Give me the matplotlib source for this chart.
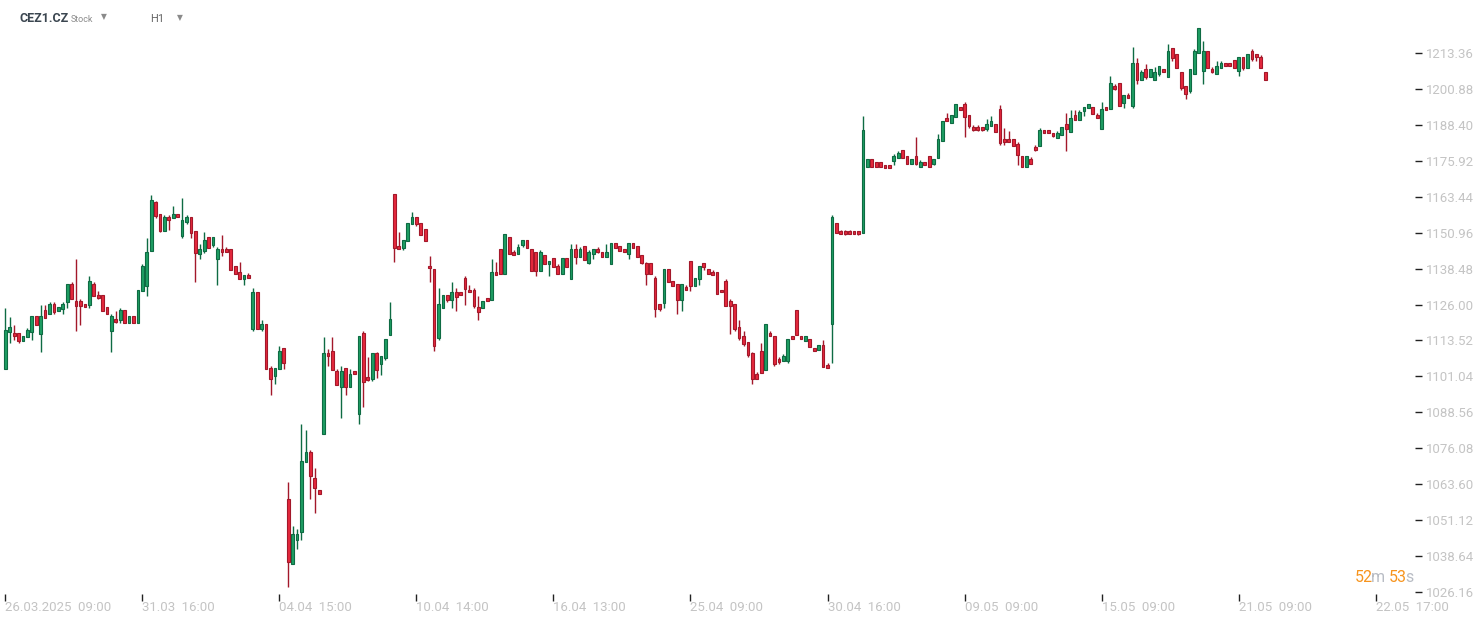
import matplotlib
matplotlib.use("Agg")
import matplotlib.pyplot as plt
from matplotlib import font_manager
import numpy as np

plt.rcParams['font.family'] = ['Roboto', 'DejaVu Sans']

# hourly OHLC candles, CEZ1.CZ
opens = [
    1103.5, 1116.6, 1116.1, 1116.0, 1113.5, 1114.6, 1116.6, 1122.0, 1115.7, 1124.0,
    1122.6, 1126.1, 1123.7, 1124.6, 1126.8, 1133.0, 1127.1, 1127.1, 1126.1, 1125.7,
    1133.1, 1129.2, 1129.2, 1125.0, 1116.7, 1120.9, 1120.5, 1124.0, 1119.5, 1122.0,
    1119.5, 1130.6, 1132.6, 1144.7, 1161.6, 1157.4, 1151.6, 1156.4, 1156.0, 1157.4,
    1149.9, 1154.8, 1156.4, 1151.5, 1143.7, 1144.7, 1149.5, 1146.8, 1141.7, 1145.3,
    1145.3, 1145.3, 1139.3, 1137.3, 1134.8, 1136.3, 1117.6, 1130.4, 1117.6, 1119.2,
    1104.0, 1101.3, 1103.5, 1110.9, 1058.5, 1035.8, 1044.1, 1046.9, 1071.2, 1074.8,
    1065.8, 1061.6, 1081.1, 1109.2, 1109.9, 1102.9, 1097.5, 1104.0, 1097.5, 1102.9,
    1088.1, 1116.1, 1100.8, 1100.3, 1109.2, 1105.5, 1107.5, 1115.5, 1164.4, 1146.3,
    1145.7, 1148.0, 1153.9, 1156.3, 1154.2, 1152.1, 1139.4, 1138.3, 1114.4, 1124.7,
    1129.2, 1127.7, 1130.3, 1130.3, 1135.1, 1131.1, 1131.1, 1125.0, 1124.7, 1128.2,
    1127.7, 1137.2, 1145.3, 1136.7, 1149.4, 1144.3, 1143.7, 1146.8, 1148.3, 1145.2,
    1144.3, 1137.8, 1143.2, 1140.0, 1142.1, 1139.4, 1136.7, 1142.1, 1134.8, 1145.2,
    1142.6, 1146.2, 1140.5, 1143.7, 1145.2, 1144.1, 1142.6, 1140.0, 1147.3, 1146.2,
    1145.2, 1143.7, 1147.3, 1146.2, 1143.1, 1140.4, 1140.4, 1135.1, 1126.1, 1126.6,
    1138.2, 1134.1, 1133.0, 1127.7, 1132.0, 1141.0, 1132.6, 1134.8, 1140.4, 1138.2,
    1137.4, 1137.3, 1131.1, 1134.2, 1127.1, 1126.1, 1118.2, 1115.1, 1113.0, 1109.1,
    1101.9, 1109.8, 1103.4, 1116.0, 1115.1, 1107.1, 1106.5, 1106.5, 1115.1, 1124.0,
    1115.1, 1113.5, 1113.9, 1110.9, 1110.3, 1111.8, 1105.0, 1119.4, 1154.2, 1151.4,
    1151.4, 1151.4, 1151.4, 1151.4, 1151.0, 1173.9, 1176.4, 1175.4, 1175.4, 1174.4,
    1174.4, 1176.0, 1177.0, 1179.6, 1177.5, 1174.9, 1177.5, 1173.9, 1175.4, 1177.5,
    1174.9, 1177.0, 1182.9, 1190.7, 1189.2, 1191.2, 1194.5, 1195.5, 1191.7, 1187.7,
    1187.7, 1187.7, 1187.1, 1188.1, 1188.7, 1193.9, 1183.5, 1183.5, 1183.5, 1181.8,
    1177.6, 1173.9, 1176.5, 1180.7, 1181.2, 1186.6, 1186.6, 1185.6, 1184.0, 1185.0,
    1188.7, 1186.0, 1191.8, 1190.2, 1193.3, 1194.1, 1194.5, 1191.8, 1187.1, 1194.5,
    1193.9, 1202.0, 1202.9, 1196.1, 1198.8, 1195.0, 1209.9, 1204.1, 1207.8, 1205.1,
    1204.1, 1206.2, 1207.8, 1205.1, 1215.1, 1213.0, 1206.8, 1201.9, 1200.3, 1206.2,
    1213.5, 1207.2, 1214.1, 1207.8, 1206.2, 1208.3, 1209.9, 1209.9, 1210.9, 1207.2,
    1212.0, 1208.3, 1214.1, 1213.0, 1212.0, 1206.8,
]
highs = [
    1124.9, 1121.7, 1118.9, 1116.0, 1115.0, 1117.8, 1122.0, 1122.0, 1125.8, 1125.8,
    1126.9, 1126.9, 1125.1, 1126.9, 1133.0, 1133.8, 1141.8, 1127.9, 1126.1, 1135.9,
    1133.8, 1130.6, 1129.2, 1125.0, 1122.6, 1123.8, 1124.8, 1124.0, 1122.0, 1122.0,
    1131.0, 1140.1, 1149.1, 1164.0, 1162.0, 1157.4, 1157.1, 1157.1, 1160.2, 1157.4,
    1163.0, 1157.1, 1156.4, 1151.5, 1147.0, 1151.2, 1149.5, 1149.5, 1146.1, 1150.2,
    1146.0, 1145.3, 1139.3, 1140.8, 1136.2, 1137.0, 1131.7, 1130.4, 1120.6, 1119.2,
    1104.7, 1104.0, 1111.6, 1110.9, 1064.4, 1049.1, 1048.0, 1084.5, 1082.4, 1075.5,
    1069.2, 1061.6, 1114.7, 1110.6, 1114.7, 1103.6, 1104.7, 1104.0, 1103.6, 1102.9,
    1115.1, 1116.8, 1107.8, 1109.2, 1109.5, 1108.1, 1114.0, 1126.9, 1164.4, 1151.2,
    1148.3, 1154.2, 1158.1, 1156.3, 1154.2, 1152.1, 1142.9, 1138.3, 1131.7, 1129.2,
    1129.2, 1133.8, 1131.7, 1130.3, 1135.9, 1132.8, 1131.7, 1129.0, 1127.1, 1128.2,
    1141.8, 1140.8, 1145.3, 1150.4, 1149.4, 1144.9, 1146.9, 1148.3, 1148.3, 1145.2,
    1144.3, 1144.9, 1143.2, 1141.0, 1142.1, 1140.1, 1142.1, 1142.1, 1147.0, 1147.0,
    1146.0, 1146.2, 1144.9, 1145.2, 1146.0, 1144.1, 1147.0, 1147.3, 1147.3, 1146.2,
    1145.2, 1147.3, 1147.3, 1146.2, 1143.1, 1140.8, 1140.4, 1135.8, 1126.1, 1138.2,
    1138.2, 1134.1, 1133.0, 1133.0, 1132.7, 1141.0, 1135.1, 1139.3, 1140.4, 1138.2,
    1138.1, 1137.3, 1131.1, 1135.0, 1127.9, 1126.1, 1120.6, 1116.8, 1113.0, 1109.6,
    1102.6, 1112.6, 1119.1, 1116.7, 1115.1, 1107.9, 1108.8, 1113.9, 1115.1, 1124.0,
    1115.1, 1115.1, 1113.9, 1110.9, 1111.8, 1113.7, 1105.7, 1157.1, 1154.2, 1151.9,
    1151.9, 1151.9, 1151.4, 1151.4, 1191.5, 1176.4, 1176.4, 1175.4, 1175.4, 1174.4,
    1174.4, 1178.3, 1179.3, 1179.6, 1177.5, 1176.4, 1184.2, 1176.1, 1175.4, 1177.5,
    1176.4, 1185.2, 1189.6, 1192.5, 1191.7, 1195.5, 1194.5, 1196.3, 1191.7, 1188.4,
    1188.4, 1187.7, 1190.4, 1191.5, 1188.7, 1195.3, 1187.3, 1186.3, 1183.5, 1182.5,
    1177.6, 1177.6, 1177.2, 1181.4, 1187.3, 1186.6, 1186.6, 1185.6, 1186.3, 1187.7,
    1192.5, 1193.6, 1193.6, 1193.6, 1194.5, 1195.6, 1194.5, 1192.5, 1196.3, 1194.5,
    1205.4, 1202.7, 1202.9, 1198.8, 1199.5, 1215.4, 1211.6, 1207.5, 1209.5, 1207.8,
    1208.5, 1208.8, 1207.8, 1216.5, 1215.1, 1213.0, 1206.8, 1201.9, 1207.8, 1214.8,
    1222.0, 1217.5, 1214.1, 1208.5, 1210.6, 1210.6, 1209.9, 1209.9, 1210.9, 1212.0,
    1212.0, 1213.0, 1214.8, 1213.0, 1212.7, 1206.8,
]
lows = [
    1103.5, 1112.8, 1113.8, 1112.8, 1113.5, 1114.6, 1113.8, 1118.8, 1109.6, 1121.4,
    1122.6, 1122.8, 1123.7, 1122.8, 1124.9, 1127.8, 1116.9, 1119.0, 1125.3, 1124.9,
    1128.9, 1128.0, 1123.7, 1122.6, 1109.6, 1119.7, 1119.7, 1119.5, 1119.5, 1119.5,
    1119.5, 1130.6, 1129.1, 1144.7, 1156.2, 1151.3, 1151.6, 1152.0, 1156.0, 1156.5,
    1149.2, 1154.1, 1149.2, 1133.8, 1141.9, 1144.0, 1145.7, 1146.1, 1132.9, 1143.0,
    1144.4, 1137.9, 1136.7, 1134.8, 1132.9, 1135.3, 1116.9, 1117.6, 1116.9, 1103.5,
    1094.6, 1098.4, 1103.5, 1103.6, 1028.0, 1035.8, 1041.2, 1044.3, 1071.2, 1058.4,
    1053.5, 1060.1, 1081.1, 1104.8, 1103.4, 1098.2, 1086.7, 1094.7, 1097.5, 1102.0,
    1084.6, 1090.5, 1099.6, 1099.6, 1100.6, 1101.6, 1106.8, 1115.5, 1140.9, 1145.4,
    1145.0, 1148.0, 1153.9, 1153.2, 1150.0, 1148.0, 1133.9, 1109.9, 1113.7, 1124.7,
    1126.9, 1124.8, 1123.9, 1129.4, 1126.0, 1130.3, 1124.9, 1120.6, 1124.7, 1127.3,
    1127.7, 1136.4, 1136.7, 1136.7, 1143.7, 1143.3, 1143.7, 1146.1, 1145.7, 1137.8,
    1136.0, 1137.8, 1140.0, 1136.0, 1138.9, 1136.7, 1136.7, 1138.9, 1134.8, 1140.2,
    1142.6, 1141.6, 1140.2, 1141.9, 1144.0, 1142.6, 1142.6, 1140.0, 1145.7, 1144.7,
    1144.4, 1141.9, 1145.7, 1142.6, 1140.2, 1132.9, 1136.7, 1121.8, 1123.9, 1124.9,
    1133.7, 1132.6, 1122.8, 1123.9, 1131.2, 1130.8, 1132.6, 1132.9, 1138.1, 1136.7,
    1136.4, 1129.8, 1130.3, 1125.6, 1115.9, 1116.9, 1113.8, 1111.7, 1107.9, 1098.5,
    1100.3, 1102.3, 1103.4, 1115.2, 1104.8, 1105.5, 1106.5, 1105.8, 1114.1, 1115.5,
    1114.1, 1113.5, 1111.3, 1110.0, 1110.3, 1104.4, 1104.1, 1105.7, 1151.0, 1150.6,
    1150.3, 1150.6, 1150.6, 1150.3, 1151.0, 1173.9, 1173.9, 1173.9, 1173.9, 1173.5,
    1173.5, 1174.6, 1177.0, 1177.0, 1174.9, 1174.9, 1174.6, 1173.9, 1174.6, 1173.9,
    1174.6, 1177.0, 1182.9, 1189.8, 1189.2, 1191.2, 1193.7, 1184.2, 1187.4, 1186.4,
    1186.4, 1186.4, 1186.4, 1188.1, 1186.0, 1181.5, 1181.5, 1182.6, 1181.2, 1174.6,
    1173.9, 1173.9, 1174.9, 1179.4, 1181.2, 1185.7, 1185.7, 1184.3, 1184.0, 1185.0,
    1179.4, 1186.0, 1190.2, 1190.2, 1191.6, 1194.1, 1192.3, 1190.9, 1187.1, 1193.7,
    1193.9, 1200.6, 1195.1, 1194.3, 1197.8, 1194.3, 1202.7, 1204.1, 1204.4, 1205.1,
    1204.1, 1205.5, 1206.9, 1205.1, 1210.7, 1208.3, 1200.6, 1197.5, 1199.6, 1206.2,
    1213.5, 1202.7, 1208.3, 1206.5, 1206.2, 1208.3, 1208.9, 1208.9, 1208.3, 1205.5,
    1207.6, 1208.3, 1210.7, 1210.7, 1208.3, 1204.1,
]
closes = [
    1117.2, 1118.2, 1115.2, 1113.5, 1115.0, 1117.1, 1122.0, 1118.8, 1122.0, 1121.4,
    1126.1, 1123.5, 1125.1, 1126.1, 1133.0, 1127.8, 1125.6, 1125.6, 1125.3, 1134.1,
    1128.9, 1128.4, 1123.7, 1122.6, 1122.0, 1120.0, 1124.0, 1119.5, 1122.0, 1119.5,
    1131.0, 1139.4, 1144.3, 1162.3, 1156.9, 1151.6, 1156.4, 1155.5, 1157.4, 1156.5,
    1155.3, 1156.4, 1151.0, 1143.8, 1145.3, 1148.4, 1145.7, 1149.5, 1145.3, 1144.4,
    1144.4, 1137.9, 1136.7, 1134.8, 1136.2, 1135.3, 1130.4, 1117.6, 1119.2, 1103.5,
    1100.3, 1104.0, 1109.9, 1105.6, 1036.7, 1046.3, 1046.3, 1071.7, 1074.8, 1066.4,
    1062.2, 1060.1, 1109.2, 1108.2, 1103.4, 1098.2, 1102.9, 1097.5, 1101.9, 1102.0,
    1115.1, 1099.2, 1099.9, 1109.2, 1103.4, 1108.1, 1114.0, 1121.0, 1145.7, 1145.4,
    1148.3, 1154.2, 1156.3, 1153.9, 1150.0, 1148.0, 1138.6, 1111.6, 1126.2, 1129.2,
    1127.7, 1130.3, 1128.7, 1129.4, 1131.5, 1130.3, 1125.6, 1123.4, 1127.1, 1127.3,
    1137.2, 1136.4, 1136.7, 1150.4, 1143.7, 1143.3, 1146.1, 1148.3, 1145.7, 1137.8,
    1137.8, 1144.3, 1140.0, 1141.0, 1138.9, 1136.7, 1142.1, 1138.9, 1145.2, 1142.6,
    1145.2, 1141.6, 1144.1, 1145.2, 1144.4, 1142.6, 1144.1, 1147.3, 1145.7, 1144.7,
    1144.4, 1147.3, 1145.7, 1142.6, 1140.5, 1136.7, 1136.7, 1124.6, 1124.6, 1138.2,
    1133.7, 1132.6, 1127.7, 1133.0, 1131.2, 1132.6, 1135.1, 1139.3, 1138.9, 1136.7,
    1136.4, 1129.8, 1130.3, 1125.6, 1125.6, 1117.6, 1114.5, 1112.4, 1108.5, 1100.3,
    1100.3, 1102.3, 1119.1, 1115.2, 1105.5, 1106.1, 1108.1, 1113.9, 1114.1, 1115.5,
    1114.1, 1115.1, 1111.3, 1110.0, 1111.8, 1104.4, 1104.1, 1156.4, 1151.0, 1150.6,
    1150.6, 1150.6, 1150.6, 1150.6, 1186.5, 1176.4, 1173.9, 1173.9, 1173.9, 1173.5,
    1173.5, 1177.5, 1178.5, 1177.0, 1174.9, 1176.4, 1174.9, 1175.4, 1174.6, 1173.9,
    1176.4, 1183.4, 1189.6, 1189.8, 1191.7, 1195.5, 1193.7, 1191.2, 1188.1, 1186.7,
    1186.7, 1186.7, 1188.7, 1189.8, 1186.0, 1182.2, 1182.6, 1182.6, 1181.2, 1178.0,
    1173.9, 1177.6, 1174.9, 1179.8, 1186.6, 1185.7, 1185.7, 1184.6, 1185.6, 1187.7,
    1187.1, 1190.8, 1190.2, 1192.9, 1194.5, 1195.6, 1192.3, 1190.9, 1193.9, 1193.7,
    1202.9, 1201.0, 1195.1, 1198.8, 1197.8, 1209.9, 1204.1, 1206.8, 1205.1, 1207.8,
    1206.8, 1208.8, 1206.9, 1214.1, 1211.5, 1208.3, 1201.3, 1199.2, 1207.8, 1214.1,
    1222.0, 1214.1, 1208.3, 1206.9, 1208.8, 1209.9, 1208.9, 1208.9, 1208.3, 1212.0,
    1208.3, 1213.0, 1211.4, 1212.1, 1208.3, 1204.1,
]

# axis labels
time_ticks = [0, 31, 62, 93, 124, 155, 186, 217, 248, 279, 310]
time_labels = ['26.03.2025  09:00', '31.03  16:00', '04.04  15:00', '10.04  14:00',
               '16.04  13:00', '25.04  09:00', '30.04  16:00', '09.05  09:00',
               '15.05  09:00', '21.05  09:00', '22.05  17:00']
price_ticks = [1026.16, 1038.64, 1051.12, 1063.60, 1076.08, 1088.56, 1101.04, 1113.52,
               1126.00, 1138.48, 1150.96, 1163.44, 1175.92, 1188.40, 1200.88, 1213.36]

# narrow font for the axis labels if available
installed = {f.name for f in font_manager.fontManager.ttflist}
axis_font = ['Liberation Sans Narrow', 'Roboto'] if 'Liberation Sans Narrow' in installed else ['Roboto']
axis_size = 10.5 if 'Liberation Sans Narrow' in installed else 9.5

o = np.array(opens)
c = np.array(closes)
h = np.maximum(np.array(highs), np.maximum(o, c))
l = np.minimum(np.array(lows), np.minimum(o, c))
x = np.arange(len(o))
up = c >= o

GREEN, GREEN_EDGE = '#1e9e63', '#0e6b43'
RED, RED_EDGE = '#e5283c', '#a3182a'

W, H = 1482, 623
fig = plt.figure(figsize=(W / 100, H / 100), dpi=100)
ax = fig.add_axes([0, (H - 594) / H, 1415 / W, 594 / H])

# wicks
ax.vlines(x[up], l[up], h[up], color=GREEN_EDGE, linewidth=1.0, zorder=2)
ax.vlines(x[~up], l[~up], h[~up], color=RED_EDGE, linewidth=1.0, zorder=2)

# bodies
body_lo = np.minimum(o, c)
body_h = np.maximum(np.abs(c - o), 0.6)
ax.bar(x[up], body_h[up], bottom=body_lo[up], width=0.62, color=GREEN,
       edgecolor=GREEN_EDGE, linewidth=0.8, zorder=3)
ax.bar(x[~up], body_h[~up], bottom=body_lo[~up], width=0.62, color=RED,
       edgecolor=RED_EDGE, linewidth=0.8, zorder=3)

ax.set_xlim(-1.2, 318.9)
ax.set_ylim(1231.77 - 0.3473 * 594, 1231.77)

for s in ax.spines.values():
    s.set_visible(False)
ax.set_facecolor('white')

ax.yaxis.tick_right()
ax.set_yticks(price_ticks)
ax.set_yticklabels(['%.2f' % v for v in price_ticks], family=axis_font)
ax.tick_params(axis='y', length=5, width=1, color='#222222', pad=3,
               labelsize=axis_size, labelcolor='#c4c4c4')

ax.set_xticks(time_ticks)
ax.set_xticklabels(time_labels, family=axis_font)
ax.tick_params(axis='x', length=5, width=1, color='#222222', pad=0,
               labelsize=axis_size, labelcolor='#c4c4c4')
for t in ax.get_xticklabels():
    t.set_horizontalalignment('left')

# header
def px(xp, yp):
    return xp / W, 1 - yp / H

fig.text(*px(20, 18), 'CEZ1.CZ', fontsize=9, fontweight='bold', color='#3b4650', va='center')
fig.text(*px(71, 19), 'Stock', fontsize=6.5, color='#8c8c8c', va='center')
fig.text(*px(104, 17), '\u25BC', fontsize=5.5, color='#8a8a8a', va='center', ha='center',
         family=['DejaVu Sans'])
fig.text(*px(150, 19), 'H1', fontsize=8, color='#666666', va='center')
fig.text(*px(180, 18), '\u25BC', fontsize=5.5, color='#8a8a8a', va='center', ha='center',
         family=['DejaVu Sans'])

# countdown
fig.text(*px(1355, 578), '52', fontsize=11.5, color='#f7941d', va='center')
fig.text(*px(1371, 578), 'm', fontsize=11.5, color='#b8bcc4', va='center')
fig.text(*px(1389, 578), '53', fontsize=11.5, color='#f7941d', va='center')
fig.text(*px(1405, 578), 's', fontsize=11.5, color='#b8bcc4', va='center')

fig.savefig('out.png', dpi=100, facecolor='white')
